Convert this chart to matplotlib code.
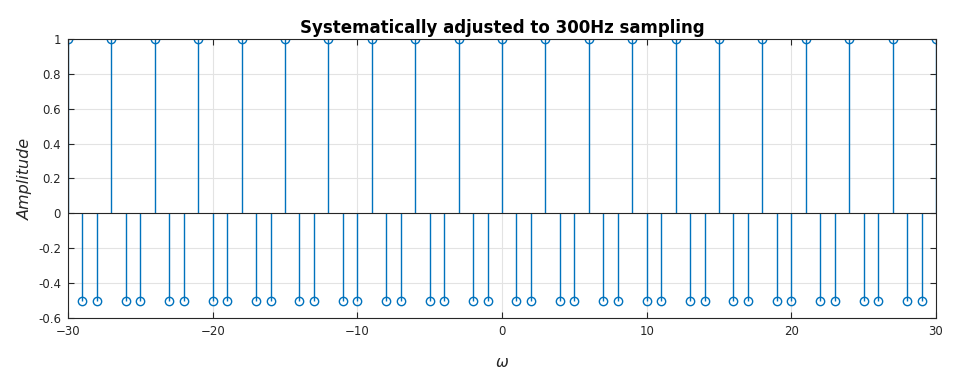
import numpy as np
import matplotlib
matplotlib.use("Agg")
from matplotlib import pyplot as plt

# samples: 1 at multiples of 3, -0.5 elsewhere
omega = list(range(-30, 31))
amp = [1.0 if w % 3 == 0 else -0.5 for w in omega]
xticks = [-30, -20, -10, 0, 10, 20, 30]
yticks = [-0.6, -0.4, -0.2, 0, 0.2, 0.4, 0.6, 0.8, 1]
ytick_labels = ['-0.6', '-0.4', '-0.2', '0', '0.2', '0.4', '0.6', '0.8', '1']

blue = '#0072BD'
fig = plt.figure(figsize=(9.56, 3.81), dpi=100)
ax = fig.add_axes([0.0711, 0.1654, 0.908, 0.7322])

ml, sl, bl = ax.stem(omega, amp, basefmt='k-')
plt.setp(sl, color=blue, linewidth=1.0)
plt.setp(ml, markerfacecolor='none', markeredgecolor=blue, markersize=6, markeredgewidth=1.0)
plt.setp(bl, color='#262626', linewidth=0.8)

ax.set_xlim(-30, 30)
ax.set_ylim(-0.6, 1)
ax.set_xticks(xticks)
ax.set_yticks(yticks)
ax.set_yticklabels(ytick_labels)
ax.grid(True, color='#e3e3e3', linewidth=0.8)
ax.set_axisbelow(True)
ax.tick_params(direction='in', length=4, top=True, right=True, labelsize=8.5,
               colors='#262626', labelcolor='#262626')
ax.tick_params(axis='x', pad=5)
ax.tick_params(axis='y', pad=5)
for s in ax.spines.values():
    s.set_color('#262626')
    s.set_linewidth(0.8)

ax.set_title('Systematically adjusted to 300Hz sampling', fontsize=12,
             fontweight='bold', pad=4)
ax.set_ylabel('Amplitude', fontsize=11.5, fontstyle='italic', color='#262626')
ax.set_xlabel(r'$\omega$', fontsize=11, color='#262626', labelpad=12)

fig.savefig('out.png', dpi=100)
